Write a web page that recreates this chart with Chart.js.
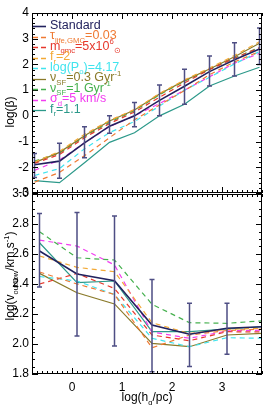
<!DOCTYPE html>
<html><head><meta charset="utf-8">
<script src="https://cdn.jsdelivr.net/npm/chart.js@4"></script>
<style>
html,body{margin:0;padding:0;background:#fff;}
#wrap{position:relative;width:264px;height:405px;background:#fff;}
canvas{position:absolute;left:0;top:0;}
</style></head><body>
<div id="wrap"><canvas id="cTop" width="264" height="405"></canvas><canvas id="cBot" width="264" height="405"></canvas></div>
<script>
// ---------- DATA ----------
const seriesNames = ["Standard","τ_life,GMC=0.03","m_gmc=5x10^6 M_sun","f_r=2","log(P_o)=4.17","ν_SF=0.3 Gyr^-1","ν_SF=1 Gyr^-1","σ_d=5 km/s","f_r=1.1"];

const topX = [-0.75,-0.25,0.25,0.75,1.25,1.75,2.25,2.75,3.25,3.75];
const topStandard = [-1.90,-1.76,-1.05,-0.40,0.00,0.60,1.15,1.72,2.18,2.60];
const topTau      = [-2.58,-2.20,-1.55,-0.85,-0.15,0.42,0.98,1.60,2.10,2.50];
const topMgmc     = [-1.85,-1.50,-0.85,-0.30,0.15,0.72,1.28,1.80,2.25,2.65];
const topFr2      = [-1.80,-1.38,-0.72,-0.18,0.25,0.87,1.40,1.86,2.35,2.88];
const topP0       = [-2.32,-2.05,-1.28,-0.65,-0.22,0.38,1.00,1.50,2.02,2.50];
const topNu03     = [-1.82,-1.42,-0.77,-0.20,0.23,0.85,1.37,1.82,2.30,2.82];
const topNu1      = [-1.76,-1.45,-0.80,-0.25,0.20,0.82,1.35,1.80,2.25,2.67];
const topSigma    = [-2.12,-1.72,-1.05,-0.42,0.00,0.48,1.00,1.52,2.05,2.43];
const topFr11     = [-2.52,-2.60,-1.82,-1.03,-0.66,0.00,0.45,1.16,1.55,1.89];
const topErrLow   = [-2.40,-2.43,-1.63,-0.68,-0.42,0.00,0.45,1.16,1.55,2.00];
const topErrHigh  = [-1.46,-1.07,-0.42,0.00,0.52,1.20,1.81,2.33,2.84,3.42];

const botX = [-0.65,0.10,0.85,1.60,2.35,3.10,3.85];
const botStandard = [2.620,2.467,2.422,2.127,2.065,2.105,2.116];
const botTau      = [2.480,2.400,2.330,1.975,2.060,2.090,2.100];
const botMgmc     = [2.400,2.470,2.370,2.060,2.022,2.082,2.080];
const botFr2      = [2.587,2.511,2.482,2.142,2.070,2.098,2.105];
const botP0       = [2.450,2.420,2.330,2.038,1.982,2.042,2.038];
const botNu03     = [2.471,2.342,2.267,2.004,1.982,2.060,2.071];
const botNu1      = [2.749,2.575,2.560,2.265,2.142,2.138,2.156];
const botSigma    = [2.693,2.653,2.527,2.080,2.038,2.087,2.093];
const botFr11     = [2.675,2.409,2.420,2.082,2.082,2.100,2.116];
const botErrLow   = [2.380,2.053,1.987,1.815,1.850,1.931,1.990];
const botErrHigh  = [2.870,2.877,2.853,2.430,2.271,2.271,2.245];

const xTickLabels = [0,1,2,3];
const topYTickLabels = [-3,-2,-1,0,1,2,3,4];
const botYTickLabels = [1.8,2.0,2.2,2.4,2.6,2.8,3.0];

// ---------- STYLE ----------
const seriesColors = ["#22225e","#ef7a33","#e6382c","#f3a935","#40e4ee","#8a7a2a","#45b04e","#f23cf0","#2c998a"];
const seriesDashed = [false,true,true,true,true,false,true,true,false];
const errColor = "#4e4e84";
const FONT = "'Liberation Sans', Arial, sans-serif";

const legendRich = [
  [["Standard"]],
  [["τ"],["life,GMC","sub"],["=0.03"]],
  [["m"],["gmc","sub"],["=5x10"],["6","sup"],["⊙","sub"]],
  [["f"],["r","sub"],["=2"]],
  [["log(P"],["o","sub"],[")=4.17"]],
  [["ν"],["SF","sub"],["=0.3 Gyr"],["-1","sup"]],
  [["ν"],["SF","sub"],["=1 Gyr"],["-1","sup"]],
  [["σ"],["d","sub"],["=5 km/s"]],
  [["f"],["r","sub"],["=1.1"]]
];
const topYTitle = [["log(β)"]];
const botYTitle = [["log(v"],["outflow","sub"],["/km s"],["-1","sup"],[")"]];
const xTitle = [["log(h"],["g","sub"],["/pc)"]];

// ---------- HELPERS ----------
function fnt(s){ return s + "px " + FONT; }
function richWidth(ctx, parts, size){
  let w = 0;
  for (const [t,k] of parts){ ctx.font = fnt(k ? size*0.62 : size); w += ctx.measureText(t).width; }
  return w;
}
function drawRich(ctx, parts, x, yMid, size, color){
  ctx.fillStyle = color; ctx.textBaseline = "alphabetic"; ctx.textAlign = "left";
  const base = yMid + size*0.36;
  let cx = x;
  for (const [t,k] of parts){
    const s = k ? size*0.62 : size;
    ctx.font = fnt(s);
    let dy = 0;
    if (k === "sub") dy = size*0.28;
    if (k === "sup") dy = -size*0.42;
    ctx.fillText(t, cx, base + dy);
    cx += ctx.measureText(t).width;
  }
}
function drawRichRotated(ctx, parts, cx, cy, size, color){
  ctx.save(); ctx.translate(cx, cy); ctx.rotate(-Math.PI/2);
  const w = richWidth(ctx, parts, size);
  drawRich(ctx, parts, -w/2, 0, size, color);
  ctx.restore();
}

function framePlugin(opts){
  return {
    id: "frame_" + opts.name,
    afterDatasetsDraw(chart){
      const ctx = chart.ctx, a = chart.chartArea;
      const xs = chart.scales.x, ys = chart.scales.y;
      // error bars
      ctx.save();
      ctx.beginPath(); ctx.rect(a.left, a.top, a.right-a.left, a.bottom-a.top); ctx.clip();
      ctx.strokeStyle = errColor; ctx.lineWidth = 1.5;
      opts.xv.forEach((xv,i)=>{
        const px = xs.getPixelForValue(xv);
        const y1 = ys.getPixelForValue(opts.lo[i]), y2 = ys.getPixelForValue(opts.hi[i]);
        ctx.beginPath();
        ctx.moveTo(px, y1); ctx.lineTo(px, y2);
        ctx.moveTo(px-2.5, y1); ctx.lineTo(px+2.5, y1);
        ctx.moveTo(px-2.5, y2); ctx.lineTo(px+2.5, y2);
        ctx.stroke();
      });
      ctx.restore();
      // frame
      ctx.save();
      ctx.strokeStyle = "#000"; ctx.lineWidth = 1;
      ctx.strokeRect(a.left+0.5, a.top+0.5, a.right-a.left-1, a.bottom-a.top-1);
      ctx.beginPath();
      const xStep = 0.1;
      for (let k = Math.ceil(xs.min/xStep-1e-6); k*xStep <= xs.max+1e-6; k++){
        const v = k*xStep;
        const major = Math.abs(v - Math.round(v)) < 1e-6;
        const L = major ? 6 : 3;
        const px = Math.round(xs.getPixelForValue(v)) + 0.5;
        ctx.moveTo(px, a.bottom); ctx.lineTo(px, a.bottom - L);
        ctx.moveTo(px, a.top); ctx.lineTo(px, a.top + L);
      }
      const ys0 = opts.yMinor, ym = opts.yMajor;
      for (let k = Math.ceil(ys.min/ys0-1e-6); k*ys0 <= ys.max+1e-6; k++){
        const v = k*ys0;
        const r = v/ym;
        const major = Math.abs(r - Math.round(r)) < 1e-6;
        const L = major ? 6 : 3;
        const py = Math.round(ys.getPixelForValue(v)) + 0.5;
        ctx.moveTo(a.left, py); ctx.lineTo(a.left + L, py);
        ctx.moveTo(a.right, py); ctx.lineTo(a.right - L, py);
      }
      ctx.stroke();
      ctx.restore();
      if (opts.after) opts.after(chart);
    }
  };
}

function buildDatasets(xv, arrays){
  return arrays.map((arr,i)=>({
    label: seriesNames[i],
    data: xv.map((x,j)=>({x:x, y:arr[j]})),
    borderColor: seriesColors[i],
    backgroundColor: seriesColors[i],
    borderWidth: i===0 ? 1.6 : 1.2,
    borderDash: seriesDashed[i] ? [5,4] : [],
    pointRadius: 0, tension: 0, fill: false
  }));
}

function baseOptions(pad, xShow, yMin, yMax, yTickVals, yFmt, xHeight){
  return {
    responsive: false, animation: false, devicePixelRatio: 1,
    layout: { padding: pad },
    plugins: { legend: {display:false}, tooltip: {enabled:false}, title:{display:false} },
    scales: {
      x: {
        type: "linear", min: -0.8, max: 3.8, display: xShow,
        grid: { display: false, drawTicks: false }, border: { display: false },
        ticks: { autoSkip: false, padding: 6, color: "#000", font: { family: FONT, size: 12 }, maxRotation: 0,
                 callback: v => String(v) },
        afterBuildTicks: s => { s.ticks = xTickLabels.map(v => ({value: v})); },
        afterFit: s => { s.height = xHeight; }
      },
      y: {
        type: "linear", min: yMin, max: yMax,
        grid: { display: false, drawTicks: false }, border: { display: false },
        ticks: { autoSkip: false, padding: 3, color: "#000", font: { family: FONT, size: 12 },
                 callback: yFmt },
        afterBuildTicks: s => { s.ticks = yTickVals.map(v => ({value: v})); },
        afterFit: s => { s.width = 32; }
      }
    }
  };
}

// ---------- TOP CHART ----------
const topArrays = [topStandard, topTau, topMgmc, topFr2, topP0, topNu03, topNu1, topSigma, topFr11];
new Chart(document.getElementById("cTop"), {
  type: "line",
  data: { datasets: buildDatasets(topX, topArrays) },
  options: baseOptions({top:13, bottom:212, left:0, right:2}, false, -3, 4, topYTickLabels, v => String(v), 0),
  plugins: [framePlugin({
    name: "top", xv: topX, lo: topErrLow, hi: topErrHigh, yMinor: 0.2, yMajor: 1,
    after(chart){
      const ctx = chart.ctx;
      ctx.save();
      legendRich.forEach((parts,i)=>{
        const yText = 24 + i*10.5;
        const yLine = Math.round(yText + 2) + 0.5;
        ctx.strokeStyle = seriesColors[i]; ctx.lineWidth = i===0 ? 1.6 : 1.3;
        ctx.beginPath();
        if (seriesDashed[i]) {
          ctx.moveTo(33, yLine); ctx.lineTo(38, yLine);
          ctx.moveTo(41, yLine); ctx.lineTo(46, yLine);
        } else {
          ctx.moveTo(33, yLine); ctx.lineTo(46, yLine);
        }
        ctx.stroke();
        drawRich(ctx, parts, 50, yText, 12.5, seriesColors[i]);
      });
      drawRichRotated(ctx, topYTitle, 10, 112, 12, "#000");
      ctx.restore();
    }
  })]
});

// ---------- BOTTOM CHART ----------
const botArrays = [botStandard, botTau, botMgmc, botFr2, botP0, botNu03, botNu1, botSigma, botFr11];
new Chart(document.getElementById("cBot"), {
  type: "line",
  data: { datasets: buildDatasets(botX, botArrays) },
  options: baseOptions({top:194, bottom:0, left:0, right:2}, true, 1.8, 3.0, botYTickLabels, v => Number(v).toFixed(1), 31),
  plugins: [framePlugin({
    name: "bot", xv: botX, lo: botErrLow, hi: botErrHigh, yMinor: 0.05, yMajor: 0.2,
    after(chart){
      const ctx = chart.ctx;
      ctx.save();
      drawRichRotated(ctx, botYTitle, 10, 276, 12, "#000");
      const w = richWidth(ctx, xTitle, 12);
      const a = chart.chartArea;
      drawRich(ctx, xTitle, (a.left + a.right)/2 - w/2, 397, 12, "#000");
      ctx.restore();
    }
  })]
});
</script>
</body></html>
